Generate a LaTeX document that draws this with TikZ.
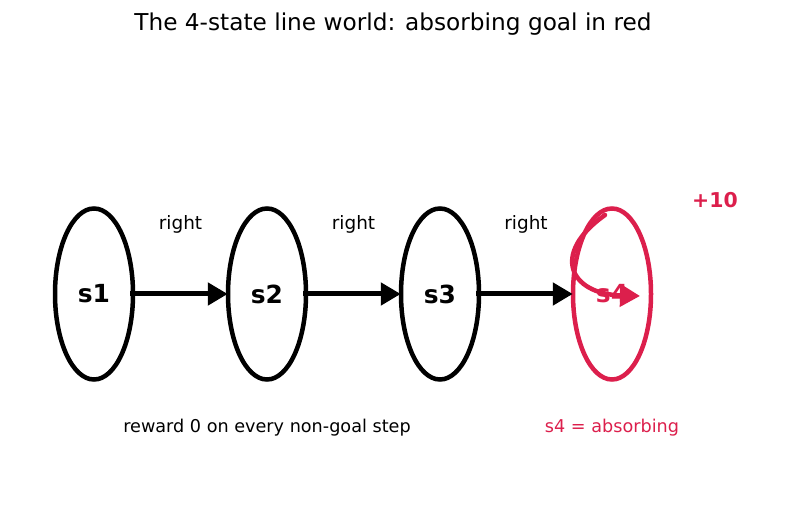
\documentclass[tikz,border=0pt]{standalone}
\usepackage{fontspec}
\setmainfont{DejaVu Sans}
\usepackage{xcolor}
\usetikzlibrary{shapes.geometric, arrows.meta, positioning, calc}
\definecolor{goalred}{HTML}{DC1F4C}

\begin{document}
\begin{tikzpicture}[
    x=1bp, y=1bp,
    state/.style={ellipse, draw, line width=4.5bp, minimum width=78bp, minimum height=171bp, inner sep=0pt, font=\bfseries\fontsize{25}{30}\selectfont},
    goal/.style={state, draw=goalred, text=goalred},
    move/.style={draw, line width=5bp, -{Triangle[length=20bp, width=22bp]}, shorten <=-5bp, shorten >=-2bp},
    lbl/.style={font=\fontsize{18.5}{22}\selectfont}
]
\useasboundingbox (0,0) rectangle (787,510);

\node [font=\fontsize{23.3}{28}\selectfont] (title) at (393,486) {The 4-state line world: absorbing goal in red};

\node [state] (s1) at (94,216) {s1};
\node [state] (s2) at (267,216) {s2};
\node [state] (s3) at (440,216) {s3};
\node [goal] (s4) at (612,216) {s4};

\path [move] (s1) -- node[lbl, yshift=70bp] {right} (s2);
\path [move] (s2) -- node[lbl, yshift=70bp] {right} (s3);
\path [move] (s3) -- node[lbl, yshift=70bp] {right} (s4);

% self loop on the goal
\coordinate (loopA) at ($(s4.center)+(-7,79)$);
\coordinate (loopB) at ($(s4.center)+(28,-2)$);
\draw [goalred, line width=4.5bp, line cap=round, -{Triangle[length=20bp, width=22bp]}]
    (loopA) .. controls ($(s4.center)+(-62,40)$) and ($(s4.center)+(-42,0)$) .. (loopB);

\node [text=goalred, font=\bfseries\fontsize{20.5}{24}\selectfont] (bonus) at (715,310) {+10};
\node [lbl, font=\fontsize{17.7}{21}\selectfont] (note) at (267,82) {reward 0 on every non-goal step};
\node [lbl, font=\fontsize{17.7}{21}\selectfont, text=goalred] (absorb) at (612,82) {s4 = absorbing};

\end{tikzpicture}
\end{document}
